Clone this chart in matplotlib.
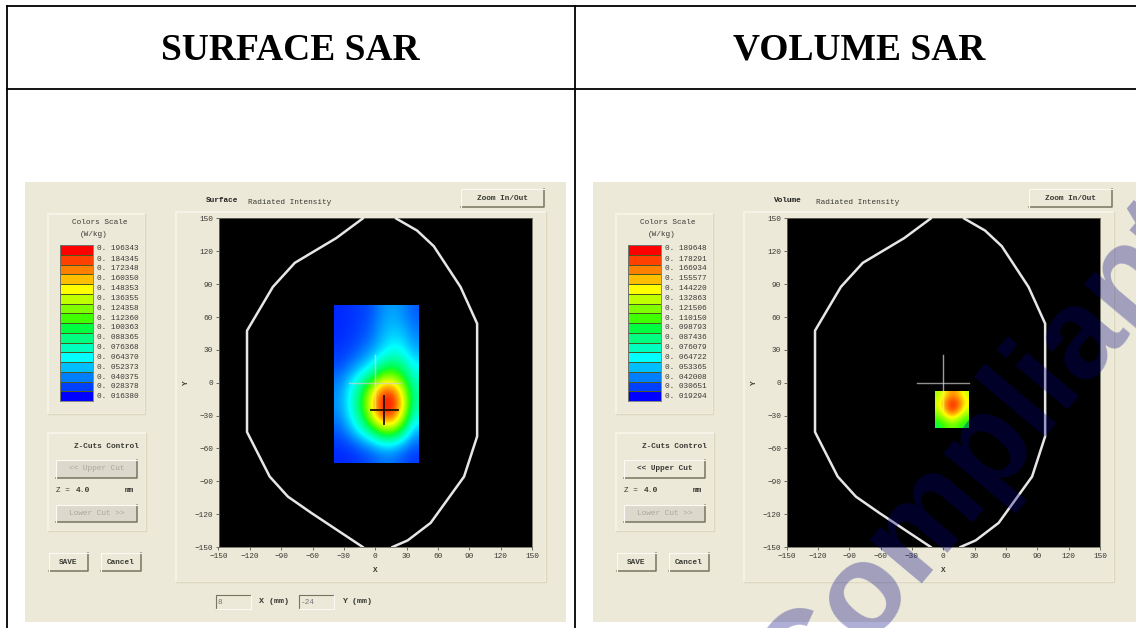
import numpy as np
import matplotlib
matplotlib.use("Agg")
import matplotlib.pyplot as plt
from matplotlib.colors import LinearSegmentedColormap, ListedColormap
from matplotlib.patches import Rectangle

W, H = 1136, 628

# ---------- data ----------
titles = ["SURFACE SAR", "VOLUME SAR"]
scale_colors = ["#ff0000", "#ff4000", "#ff8000", "#ffbf00", "#ffff00", "#bfff00", "#80ff00", "#40ff00",
                "#00ff40", "#00ff80", "#00ffbf", "#00ffff", "#00bfff", "#0080ff", "#0040ff", "#0000ff"]
surface_scale = [0.196343, 0.184345, 0.172348, 0.160350, 0.148353, 0.136355, 0.124358, 0.112360,
                 0.100363, 0.088365, 0.076368, 0.064370, 0.052373, 0.040375, 0.028378, 0.016380]
volume_scale = [0.189648, 0.178291, 0.166934, 0.155577, 0.144220, 0.132863, 0.121506, 0.110150,
                0.098793, 0.087436, 0.076079, 0.064722, 0.053365, 0.042008, 0.030651, 0.019294]
label_rows = [248.7, 259.3, 268.3, 278.3, 288.3, 298.3, 308.3, 318.3,
              327.3, 337.7, 347.3, 357.7, 367.3, 377.3, 386.7, 396.7]

surface_x = [-39.5, -28, -17, -6, 6, 17, 29, 41]
surface_y = [70.5, 57, 44, 31, 18, 5, -8, -21, -34, -47, -60, -73]
surface_sar = [
    [.024, .026, .028, .032, .043, .048, .043, .034],
    [.024, .026, .029, .034, .047, .052, .048, .038],
    [.025, .027, .031, .038, .050, .059, .056, .043],
    [.027, .030, .037, .046, .059, .070, .066, .050],
    [.030, .038, .048, .062, .082, .094, .084, .063],
    [.038, .052, .072, .092, .125, .130, .108, .074],
    [.043, .065, .090, .135, .178, .182, .140, .081],
    [.045, .066, .098, .150, .195, .196, .155, .081],
    [.041, .061, .088, .135, .180, .182, .135, .070],
    [.034, .048, .068, .092, .122, .125, .095, .052],
    [.027, .032, .041, .052, .065, .067, .052, .036],
    [.024, .025, .028, .032, .038, .038, .032, .027],
]
volume_x = [-8, 0, 8, 16, 24.5]
volume_y = [-8.5, -16, -25, -33, -41.5]
volume_sar = [
    [.131, .150, .170, .160, .138],
    [.140, .172, .190, .180, .150],
    [.135, .165, .190, .172, .140],
    [.118, .140, .155, .140, .120],
    [.100, .112, .122, .113, .102],
]

outline_left_x = [-12, -37.5, -77, -98, -122.7, -122.7, -101, -83.6, -61, -12]
outline_left_y = [150, 132, 109.5, 87.5, 47.6, -45, -85.7, -104, -119, -150]
outline_right_x = [16.5, 31, 53, 85, 97.5, 97.5, 81.6, 56, 40, 20]
outline_right_y = [-150, -144, -128, -85.7, -49, 54, 87.5, 124.7, 139, 150]
ticks = [-150, -120, -90, -60, -30, 0, 30, 60, 90, 120, 150]
white_cross = (0, 0, 25)
black_cross = (8.6, -24.5, 12.8)

PANEL = "#ECE9D8"
MONO = "Liberation Mono"
SERIF = "Liberation Serif"
TXT = "#3a3a34"

fig = plt.figure(figsize=(W / 100, H / 100), dpi=100, facecolor="white")


def px_axes(x0, y0, x1, y1, **kw):
    return fig.add_axes([x0 / W, 1 - y1 / H, (x1 - x0) / W, (y1 - y0) / H], **kw)


bg = px_axes(0, 0, W, H)
bg.set_xlim(0, W)
bg.set_ylim(H, 0)
bg.axis("off")

# table rules
for x in (7, 575):
    bg.plot([x, x], [5, H], color="black", lw=1.3, solid_capstyle="butt")
for y in (5.5, 89):
    bg.plot([6, W], [y, y], color="black", lw=1.3, solid_capstyle="butt")
bg.text(290.5, 50.5, titles[0], family=SERIF, weight="bold", fontsize=27, ha="center", va="center", color="black")
bg.text(859.5, 50.5, titles[1], family=SERIF, weight="bold", fontsize=27, ha="center", va="center", color="black")


def button(x0, y0, x1, y1, label, enabled=True):
    bg.add_patch(Rectangle((x0, y0), x1 - x0, y1 - y0, fc=PANEL if enabled else "#dcd9cc", ec="none", zorder=2))
    bg.plot([x0, x1, x1], [y1, y1, y0], color="#77745f", lw=1.1, zorder=3)
    bg.plot([x0, x0, x1], [y1, y0, y0], color="#fbfaf4", lw=0.8, zorder=3)
    bg.text((x0 + x1) / 2, (y0 + y1) / 2, label, family=MONO, fontsize=5.6, ha="center", va="center",
            color=TXT if enabled else "#a8a69c", zorder=4, weight="bold" if enabled else "normal")


def box(x0, y0, x1, y1):
    bg.add_patch(Rectangle((x0, y0), x1 - x0, y1 - y0, fc="none", ec="#f7f5ea", lw=1.2, zorder=2))
    bg.plot([x0, x1, x1], [y1, y1, y0], color="#dcd8bf", lw=1, zorder=2)


def panel(dx, x_end, name, scale, gx, gy, sar, has_black, has_fields, upper_enabled):
    bg.add_patch(Rectangle((25 + dx, 182), x_end - (25 + dx), 440, fc=PANEL, ec="none", zorder=1))
    box(176 + dx, 212, 546 + dx, 582)
    box(48 + dx, 214, 145 + dx, 414)
    box(48 + dx, 433, 146 + dx, 531)

    bg.text(206 + dx, 201, name, family=MONO, weight="bold", fontsize=5.6, va="center", color="#222", zorder=4)
    bg.text(248 + dx, 202, "Radiated Intensity", family=MONO, fontsize=5.6, va="center", color=TXT, zorder=4)
    button(461 + dx, 189, 544 + dx, 207, "Zoom In/Out")

    # colour scale
    bg.text(100 + dx, 223, "Colors Scale", family=MONO, fontsize=5.6, ha="center", va="center", color=TXT, zorder=4)
    bg.text(94 + dx, 234, "(W/kg)", family=MONO, fontsize=5.6, ha="center", va="center", color=TXT, zorder=4)
    cax = px_axes(60 + dx, 245, 93 + dx, 401)
    cax.pcolormesh(np.arange(16).reshape(-1, 1), cmap=ListedColormap(scale_colors),
                   edgecolors="#4a5a20", linewidth=0.5)
    cax.invert_yaxis()
    cax.set_xticks([])
    cax.set_yticks([])
    for s in cax.spines.values():
        s.set_color("#777")
        s.set_linewidth(0.6)
    for v, y in zip(scale, label_rows):
        bg.text(97 + dx, y, f"{v:.6f}".replace("0.", "0. ", 1), family=MONO, fontsize=5.6, va="center", color=TXT, zorder=4)

    # Z cuts
    bg.text(139 + dx, 447, "Z-Cuts Control", family=MONO, weight="bold", fontsize=5.6, ha="right", va="center", color=TXT, zorder=4)
    button(56 + dx, 460, 137 + dx, 478, "<< Upper Cut", upper_enabled)
    bg.text(56 + dx, 491, "Z =", family=MONO, fontsize=5.6, va="center", color=TXT, zorder=4)
    bg.text(76 + dx, 491, "4.0", family=MONO, weight="bold", fontsize=5.8, va="center", color=TXT, zorder=4)
    bg.text(125 + dx, 491, "mm", family=MONO, weight="bold", fontsize=5.6, va="center", color=TXT, zorder=4)
    button(56 + dx, 505, 137 + dx, 522, "Lower Cut >>", False)
    button(49 + dx, 553, 88 + dx, 571, "SAVE")
    button(101 + dx, 553, 141 + dx, 571, "Cancel")

    if has_fields:
        for x0, x1, val, lab, lx in ((216, 251, "8", "X (mm)", 259), (299, 334, "-24", "Y (mm)", 342)):
            bg.add_patch(Rectangle((x0, 595), x1 - x0, 14, fc=PANEL, ec="none", zorder=2))
            bg.plot([x0, x0, x1], [609, 595, 595], color="#77745f", lw=0.8, zorder=3)
            bg.plot([x0, x1, x1], [609, 609, 595], color="#fbfaf4", lw=0.8, zorder=3)
            bg.text(x0 + 2, 602, val, family=MONO, fontsize=5.6, va="center", color="#777", zorder=4)
            bg.text(lx, 601.5, lab, family=MONO, weight="bold", fontsize=6, va="center", color=TXT, zorder=4)

    # main plot
    ax = px_axes(218.5 + dx, 218.5, 532 + dx, 547)
    ax.set_facecolor("black")
    ax.imshow(sar, extent=[gx[0], gx[-1], gy[-1], gy[0]], origin="upper", cmap=cmap,
              vmin=surface_scale[-1], vmax=surface_scale[0], interpolation="bicubic", aspect="auto", zorder=1)
    ax.set_xlim(-150, 150)
    ax.set_ylim(-150, 150)
    ax.plot(outline_left_x, outline_left_y, color="#e6e6e6", lw=1.8, zorder=3)
    ax.plot(outline_right_x, outline_right_y, color="#e6e6e6", lw=1.8, zorder=3)
    cx, cy, r = white_cross
    ax.plot([cx - r, cx + r], [cy, cy], color="#cfcfcf", alpha=0.7, lw=1, zorder=4)
    ax.plot([cx, cx], [cy - r, cy + r], color="#e0e0e0", alpha=0.7, lw=1, zorder=4)
    if has_black:
        bx, by, br = black_cross
        ax.plot([bx - br, bx + br], [by, by], color="#201000", lw=1.3, zorder=5)
        ax.plot([bx, bx], [by - br, by + br], color="#201000", lw=1.3, zorder=5)
    ax.set_xticks(ticks)
    ax.set_yticks(ticks)
    ax.tick_params(length=2.5, width=0.6, color="#555", labelsize=5.6, labelcolor=TXT, pad=1.5)
    for t in ax.get_xticklabels() + ax.get_yticklabels():
        t.set_family(MONO)
    ax.set_xlabel("X", family=MONO, fontsize=5.6, color=TXT, labelpad=5.5, weight="bold")
    ax.set_ylabel("Y", family=MONO, fontsize=5.6, color=TXT, labelpad=3, weight="bold")
    for s in ax.spines.values():
        s.set_color("#6b6a5c")
        s.set_linewidth(0.6)


cmap = LinearSegmentedColormap.from_list("sar", scale_colors[::-1])
panel(0, 566, "Surface", surface_scale, surface_x, surface_y, surface_sar, True, True, False)
panel(568, W, "Volume", volume_scale, volume_x, volume_y, volume_sar, False, False, True)

# watermark over everything
top = px_axes(0, 0, W, H)
top.set_xlim(0, W)
top.set_ylim(H, 0)
top.axis("off")
top.patch.set_alpha(0)
top.text(806, 716, "Compliant", family="Liberation Sans", weight="bold", fontsize=92, rotation=50,
         rotation_mode="anchor", ha="left", va="baseline", color="#000080", alpha=0.32, clip_on=True, zorder=10)

fig.savefig("out.png", dpi=100)
